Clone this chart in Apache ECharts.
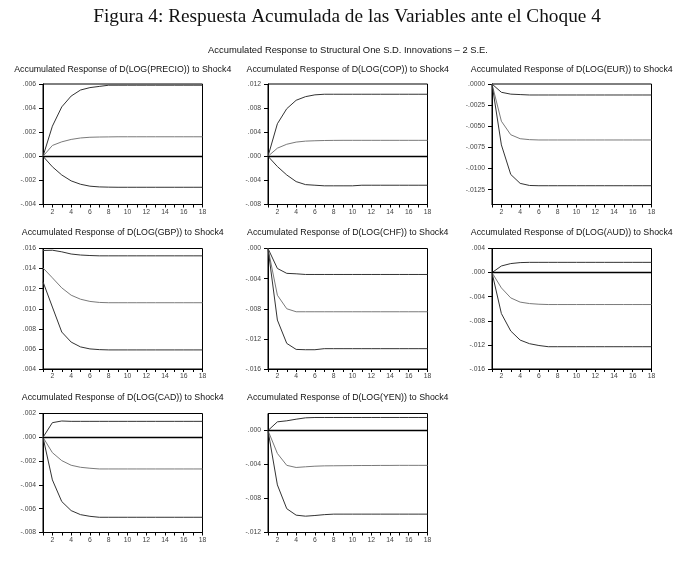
<!DOCTYPE html>
<html><head><meta charset="utf-8">
<script src="https://cdn.jsdelivr.net/npm/echarts@6/dist/echarts.min.js"></script>
<style>html,body{margin:0;padding:0;background:#fff}#c{width:696px;height:562px}</style>
</head><body><div id="c"></div>
<script>
const mainTitle = 'Figura 4: Respuesta Acumulada de las Variables ante el Choque 4';
const subTitle = 'Accumulated Response to Structural One S.D. Innovations \u2013 2 S.E.';
const periods = [1,2,3,4,5,6,7,8,9,10,11,12,13,14,15,16,17,18];
const xTickLabels = [2,4,6,8,10,12,14,16,18];

const titles = [
  'Accumulated Response of D(LOG(PRECIO)) to Shock4',
  'Accumulated Response of D(LOG(COP)) to Shock4',
  'Accumulated Response of D(LOG(EUR)) to Shock4',
  'Accumulated Response of D(LOG(GBP)) to Shock4',
  'Accumulated Response of D(LOG(CHF)) to Shock4',
  'Accumulated Response of D(LOG(AUD)) to Shock4',
  'Accumulated Response of D(LOG(CAD)) to Shock4',
  'Accumulated Response of D(LOG(YEN)) to Shock4'
];

// PRECIO
const precioUp   = [0,0.0025,0.0041,0.0050,0.0055,0.0057,0.0058,0.0059,0.0059,0.0059,0.0059,0.0059,0.0059,0.0059,0.0059,0.0059,0.0059,0.0059];
const precioResp = [0,0.0009,0.0012,0.0014,0.00152,0.00158,0.0016,0.00161,0.00162,0.00162,0.00162,0.00162,0.00162,0.00162,0.00162,0.00162,0.00162,0.00162];
const precioLo   = [0,-0.00087,-0.00155,-0.00204,-0.00232,-0.00248,-0.00254,-0.00256,-0.00257,-0.00257,-0.00257,-0.00257,-0.00257,-0.00257,-0.00257,-0.00257,-0.00257,-0.00257];
const precioTicks = [-0.004,-0.002,0,0.002,0.004,0.006];
// COP
const copUp   = [0,0.0054,0.0079,0.0093,0.0099,0.0102,0.0103,0.0103,0.0103,0.0103,0.0103,0.0103,0.0103,0.0103,0.0103,0.0103,0.0103,0.0103];
const copResp = [0,0.00135,0.0020,0.00236,0.00252,0.00258,0.00262,0.00264,0.00265,0.00265,0.00265,0.00265,0.00265,0.00265,0.00265,0.00265,0.00265,0.00265];
const copLo   = [0,-0.0017,-0.0031,-0.0042,-0.0047,-0.0048,-0.0049,-0.0049,-0.0049,-0.0049,-0.0048,-0.0048,-0.0048,-0.0048,-0.0048,-0.0048,-0.0048,-0.0048];
const copTicks = [-0.008,-0.004,0,0.004,0.008,0.012];
// EUR
const eurUp   = [0,-0.00098,-0.0012,-0.00125,-0.0013,-0.0013,-0.0013,-0.0013,-0.0013,-0.0013,-0.0013,-0.0013,-0.0013,-0.0013,-0.0013,-0.0013,-0.0013,-0.0013];
const eurResp = [0,-0.0044,-0.0060,-0.00647,-0.00658,-0.00662,-0.00662,-0.00662,-0.00662,-0.00662,-0.00662,-0.00662,-0.00662,-0.00662,-0.00662,-0.00662,-0.00662,-0.00662];
const eurLo   = [0,-0.0072,-0.0107,-0.01175,-0.0120,-0.01203,-0.01203,-0.01203,-0.01203,-0.01203,-0.01203,-0.01203,-0.01203,-0.01203,-0.01203,-0.01203,-0.01203,-0.01203];
const eurTicks = [-0.0125,-0.01,-0.0075,-0.005,-0.0025,0];
// GBP
const gbpUp   = [0.0158,0.01583,0.01567,0.01545,0.01535,0.0153,0.01527,0.01527,0.01527,0.01527,0.01527,0.01527,0.01527,0.01527,0.01527,0.01527,0.01527,0.01527];
const gbpResp = [0.01407,0.01308,0.01208,0.01135,0.01095,0.01073,0.01063,0.0106,0.0106,0.0106,0.0106,0.0106,0.0106,0.0106,0.0106,0.0106,0.0106,0.0106];
const gbpLo   = [0.01268,0.01017,0.00768,0.00668,0.0062,0.006,0.00593,0.0059,0.0059,0.0059,0.0059,0.0059,0.0059,0.0059,0.0059,0.0059,0.0059,0.0059];
const gbpTicks = [0.004,0.006,0.008,0.010,0.012,0.014,0.016];
// CHF
const chfUp   = [0,-0.00265,-0.0033,-0.00336,-0.00345,-0.00345,-0.00345,-0.00345,-0.00345,-0.00345,-0.00345,-0.00345,-0.00345,-0.00345,-0.00345,-0.00345,-0.00345,-0.00345];
const chfResp = [0,-0.0062,-0.0080,-0.0084,-0.0084,-0.0084,-0.0084,-0.0084,-0.0084,-0.0084,-0.0084,-0.0084,-0.0084,-0.0084,-0.0084,-0.0084,-0.0084,-0.0084];
const chfLo   = [0,-0.0095,-0.0126,-0.0134,-0.01344,-0.01344,-0.0133,-0.0133,-0.0133,-0.0133,-0.0133,-0.0133,-0.0133,-0.0133,-0.0133,-0.0133,-0.0133,-0.0133];
const chfTicks = [-0.016,-0.012,-0.008,-0.004,0];
// AUD
const audUp   = [0,0.0011,0.0015,0.00166,0.0017,0.0017,0.0017,0.0017,0.0017,0.0017,0.0017,0.0017,0.0017,0.0017,0.0017,0.0017,0.0017,0.0017];
const audResp = [0,-0.00254,-0.0042,-0.0049,-0.00514,-0.00525,-0.0053,-0.0053,-0.0053,-0.0053,-0.0053,-0.0053,-0.0053,-0.0053,-0.0053,-0.0053,-0.0053,-0.0053];
const audLo   = [0,-0.0068,-0.0097,-0.0112,-0.0118,-0.0121,-0.0123,-0.0123,-0.0123,-0.0123,-0.0123,-0.0123,-0.0123,-0.0123,-0.0123,-0.0123,-0.0123,-0.0123];
const audTicks = [-0.016,-0.012,-0.008,-0.004,0,0.004];
// CAD
const cadUp   = [0,0.00123,0.00137,0.00134,0.00134,0.00134,0.00134,0.00134,0.00134,0.00134,0.00134,0.00134,0.00134,0.00134,0.00134,0.00134,0.00134,0.00134];
const cadResp = [0,-0.00129,-0.00196,-0.00235,-0.00252,-0.0026,-0.00266,-0.00266,-0.00266,-0.00266,-0.00266,-0.00266,-0.00266,-0.00266,-0.00266,-0.00266,-0.00266,-0.00266];
const cadLo   = [0,-0.00358,-0.0054,-0.00616,-0.0065,-0.00664,-0.00672,-0.00672,-0.00672,-0.00672,-0.00672,-0.00672,-0.00672,-0.00672,-0.00672,-0.00672,-0.00672,-0.00672];
const cadTicks = [-0.008,-0.006,-0.004,-0.002,0,0.002];
// YEN
const yenUp   = [0,0.00102,0.00114,0.00133,0.00149,0.00153,0.00153,0.00153,0.00153,0.00153,0.00153,0.00153,0.00153,0.00153,0.00153,0.00153,0.00153,0.00153];
const yenResp = [0,-0.0027,-0.0041,-0.00435,-0.00427,-0.0042,-0.00416,-0.00415,-0.00414,-0.00413,-0.00412,-0.00412,-0.00411,-0.00411,-0.0041,-0.0041,-0.0041,-0.0041];
const yenLo   = [0,-0.0064,-0.0092,-0.00996,-0.01008,-0.0100,-0.0099,-0.00984,-0.00984,-0.00984,-0.00984,-0.00984,-0.00984,-0.00984,-0.00984,-0.00984,-0.00984,-0.00984];
const yenTicks = [-0.012,-0.008,-0.004,0];

const panels = [
  {up: precioUp, resp: precioResp, lo: precioLo, ticks: precioTicks, min: -0.004, max: 0.006, dec: 3, zero: true},
  {up: copUp, resp: copResp, lo: copLo, ticks: copTicks, min: -0.008, max: 0.012, dec: 3, zero: true},
  {up: eurUp, resp: eurResp, lo: eurLo, ticks: eurTicks, min: -0.01425, max: 0, dec: 4, zero: false},
  {up: gbpUp, resp: gbpResp, lo: gbpLo, ticks: gbpTicks, min: 0.004, max: 0.016, dec: 3, zero: false},
  {up: chfUp, resp: chfResp, lo: chfLo, ticks: chfTicks, min: -0.016, max: 0, dec: 3, zero: false},
  {up: audUp, resp: audResp, lo: audLo, ticks: audTicks, min: -0.016, max: 0.004, dec: 3, zero: true},
  {up: cadUp, resp: cadResp, lo: cadLo, ticks: cadTicks, min: -0.008, max: 0.002, dec: 3, zero: true},
  {up: yenUp, resp: yenResp, lo: yenLo, ticks: yenTicks, min: -0.012, max: 0.002, dec: 3, zero: true}
];

const colLeft = [43, 268, 492];
const rowTop = [84, 248.5, 413.5];
const rowH = [120.5, 120.5, 119];
const gw = 159.5;
const titleTop = [65, 228.5, 393.5];

function fmt(v, dec) {
  let s = Math.abs(v) < 1e-12 ? (0).toFixed(dec) : v.toFixed(dec);
  return s.replace(/^(-?)0\./, '$1.');
}

const option = {
  backgroundColor: '#fff',
  animation: false,
  title: [], grid: [], xAxis: [], yAxis: [], series: []
};

option.title.push({
  text: mainTitle, left: 347, top: 7, textAlign: 'center', padding: 0,
  textStyle: {fontFamily: "'Liberation Serif', 'DejaVu Serif', serif", fontSize: 19.3, fontWeight: 'normal', color: '#111'}
});
option.title.push({
  text: subTitle, left: 348, top: 45.5, textAlign: 'center', padding: 0,
  textStyle: {fontFamily: "'Liberation Sans Narrow', 'Arial Narrow', 'Liberation Sans', sans-serif", fontSize: 9.4, fontWeight: 'normal', color: '#111'}
});

const tickFont = "'Liberation Sans Narrow', 'Liberation Sans', sans-serif";

panels.forEach((p, i) => {
  const r = Math.floor(i / 3), c = i % 3;
  const left = colLeft[c], top = rowTop[r], h = rowH[r];
  option.title.push({
    text: titles[i], left: left + gw / 2, top: titleTop[r], textAlign: 'center', padding: 0,
    textStyle: {fontFamily: "'Liberation Sans', Arial, sans-serif", fontSize: 8.8, fontWeight: 'normal', color: '#111'}
  });
  option.grid.push({left: left, top: top, width: gw, height: h, show: true, borderColor: '#000', borderWidth: 1, backgroundColor: 'transparent'});
  option.xAxis.push({
    type: 'value', gridIndex: i, min: 1, max: 18, interval: 1,
    axisLine: {show: true, onZero: false, lineStyle: {color: '#000', width: 1}},
    axisTick: {show: true, length: 3, lineStyle: {color: '#000'}},
    splitLine: {show: false},
    axisLabel: {
      margin: 4, fontSize: 6.8, color: '#444', fontFamily: tickFont,
      customValues: xTickLabels,
      formatter: v => String(v)
    }
  });
  option.yAxis.push({
    type: 'value', gridIndex: i, min: p.min, max: p.max,
    axisLine: {show: true, onZero: false, lineStyle: {color: '#000', width: 1}},
    axisTick: {show: true, length: 4, customValues: p.ticks, lineStyle: {color: '#000'}},
    splitLine: {show: false},
    axisLabel: {
      margin: 7, fontSize: 6.8, color: '#444', fontFamily: tickFont,
      customValues: p.ticks, showMinLabel: true, showMaxLabel: true,
      formatter: v => fmt(v, p.dec)
    }
  });
  const mk = (arr, color, w) => ({
    type: 'line', xAxisIndex: i, yAxisIndex: i, symbol: 'none', silent: true,
    data: periods.map((x, k) => [x, arr[k]]),
    lineStyle: {color: color, width: w}
  });
  const respSeries = mk(p.resp, '#7a7a7a', 1);
  if (p.zero) {
    respSeries.markLine = {
      silent: true, symbol: 'none', label: {show: false},
      lineStyle: {color: '#000', width: 1.3, type: 'solid'},
      data: [{yAxis: 0}]
    };
  }
  option.series.push(mk(p.up, '#333', 1));
  option.series.push(respSeries);
  option.series.push(mk(p.lo, '#333', 1));
});

const chart = echarts.init(document.getElementById('c'), null, {renderer: 'canvas'});
chart.setOption(option);
</script>
</body></html>
